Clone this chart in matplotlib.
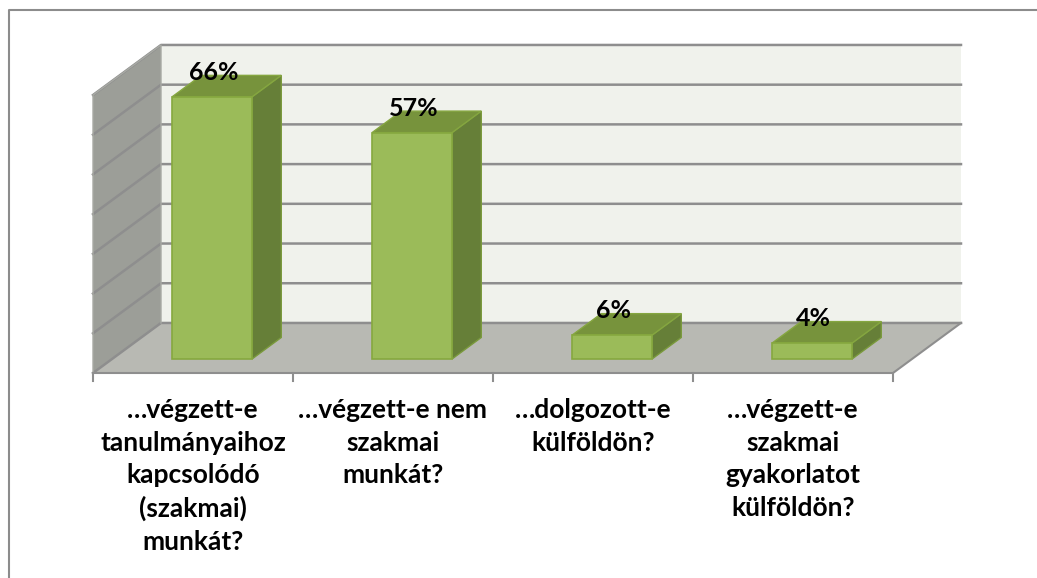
import matplotlib
matplotlib.use('Agg')
import matplotlib.pyplot as plt
from matplotlib.patches import Polygon
from matplotlib.lines import Line2D

# adatok
kategoriak = ['…végzett-e\ntanulmányaihoz\nkapcsolódó\n(szakmai)\nmunkát?',
              '…végzett-e nem\nszakmai\nmunkát?',
              '…dolgozott-e\nkülföldön?',
              '…végzett-e\nszakmai\ngyakorlatot\nkülföldön?']
ertekek = [66, 57, 6, 4]
feliratok = ['66%', '57%', '6%', '4%']
y_max = 70
y_lepes = 10

# 3D hatás: mélység eltolás (kategória-egység, százalék-egység)
DX = 0.34
DY = 12.6
Z_ELO, Z_HATSO = 0.28, 0.71
FEL_SZELES = 0.2

def proj(u, v, z):
    return (u + z * DX, v + z * DY)

plt.rcParams['font.family'] = ['Lato', 'DejaVu Sans']

fig = plt.figure(figsize=(10.37, 5.78), dpi=100)
ax = fig.add_axes([0, 0, 1, 1])
# pixel -> adat leképezés: u = (px-93)/200, v = (373-py)*70/278
ax.set_xlim(-93 / 200, (1037 - 93) / 200)
ax.set_ylim((373 - 578) * y_max / 278, 373 * y_max / 278)
ax.axis('off')

n = len(ertekek)
fal_szin = '#f0f2ec'
oldal_szin = '#9c9e98'
padlo_szin = '#b8b9b3'
racs_szin = '#8e8e8e'

# hátsó fal, oldalfal, padló
ax.add_patch(Polygon([proj(0, 0, 1), proj(n, 0, 1), proj(n, y_max, 1), proj(0, y_max, 1)],
                     closed=True, fc=fal_szin, ec='none', zorder=1))
ax.add_patch(Polygon([proj(0, 0, 0), proj(0, 0, 1), proj(0, y_max, 1), proj(0, y_max, 0)],
                     closed=True, fc=oldal_szin, ec='none', zorder=1))
ax.add_patch(Polygon([proj(0, 0, 0), proj(n, 0, 0), proj(n, 0, 1), proj(0, 0, 1)],
                     closed=True, fc=padlo_szin, ec='none', zorder=1))

# rácsvonalak
for v in range(0, y_max + 1, y_lepes):
    p = [proj(0, v, 0), proj(0, v, 1), proj(n, v, 1)]
    ax.plot([q[0] for q in p], [q[1] for q in p], color=racs_szin, lw=1.8, zorder=2)

# falak élei
el = [proj(0, 0, 0), proj(n, 0, 0), proj(n, 0, 1)]
ax.plot([q[0] for q in el], [q[1] for q in el], color=racs_szin, lw=1.5, zorder=2)
el = [proj(0, 0, 0), proj(0, y_max, 0), proj(0, y_max, 1), proj(0, 0, 1)]
ax.plot([q[0] for q in el], [q[1] for q in el], color='#a8aaa4', lw=1.0, zorder=2)

# osztásjelek
for i in range(n + 1):
    ax.plot([i, i], [0, -2.0], color=racs_szin, lw=1.5, zorder=2)

# oszlopok
for i, val in enumerate(ertekek):
    x0 = i + 0.5 - FEL_SZELES
    x1 = i + 0.5 + FEL_SZELES
    elo = [proj(x0, 0, Z_ELO), proj(x1, 0, Z_ELO), proj(x1, val, Z_ELO), proj(x0, val, Z_ELO)]
    teto = [proj(x0, val, Z_ELO), proj(x1, val, Z_ELO), proj(x1, val, Z_HATSO), proj(x0, val, Z_HATSO)]
    oldal = [proj(x1, 0, Z_ELO), proj(x1, 0, Z_HATSO), proj(x1, val, Z_HATSO), proj(x1, val, Z_ELO)]
    ax.add_patch(Polygon(oldal, closed=True, fc='#667f38', ec='#7a9a3c', lw=1.0, zorder=3))
    ax.add_patch(Polygon(teto, closed=True, fc='#77933c', ec='#85a640', lw=1.0, zorder=3))
    ax.add_patch(Polygon(elo, closed=True, fc='#9bbb59', ec='#86a83f', lw=1.2, zorder=4))

    # érték felirat
    cx, cy = proj(i + 0.5, val, Z_ELO)
    ax.annotate(feliratok[i], (cx, cy), xytext=(1, 12), textcoords='offset points',
                ha='center', va='baseline', fontsize=18, fontweight='bold',
                color='black', zorder=6)

    # kategória felirat
    ax.text(i + 0.5, -6.4, kategoriak[i], ha='center', va='top', fontsize=19,
            fontweight='bold', linespacing=1.42, color='black', zorder=6)

# külső keret
fig.add_artist(Line2D([9 / 1037, 9 / 1037, 1], [0, 1 - 10 / 578, 1 - 10 / 578],
                      transform=fig.transFigure, color='#8c8c8c', lw=1.5))

plt.savefig('out.png', dpi=100)
